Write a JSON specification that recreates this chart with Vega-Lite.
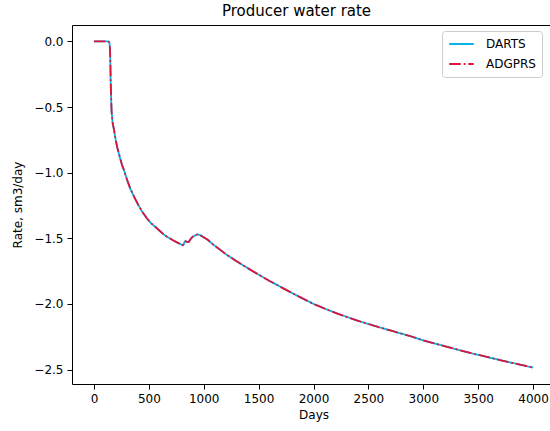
{
  "$schema": "https://vega.github.io/schema/vega-lite/v6.json",
  "width": 483,
  "height": 359,
  "autosize": {"type": "none"},
  "padding": {"left": 72, "top": 25, "right": 10, "bottom": 47},
  "background": "white",
  "config": {
    "view": {"stroke": "#000", "strokeWidth": 1},
    "font": "DejaVu Sans",
    "axis": {
      "grid": false, "domain": false,
      "labelFont": "DejaVu Sans", "labelFontSize": 12, "labelColor": "#000",
      "tickColor": "#000", "tickSize": 5, "tickWidth": 1, "labelPadding": 4,
      "titleFont": "DejaVu Sans", "titleFontSize": 12, "titleFontWeight": "normal", "titleColor": "#000"
    }
  },
  "title": {
    "text": "Producer water rate",
    "font": "DejaVu Sans", "fontSize": 15, "fontWeight": "normal", "color": "#000",
    "anchor": "middle", "dx": -17, "offset": 6
  },
  "datasets": {
    "darts": [
      {"series":"DARTS","day":0,"rate":0},{"series":"DARTS","day":50,"rate":0},{"series":"DARTS","day":100,"rate":0},{"series":"DARTS","day":131,"rate":0},
      {"series":"DARTS","day":138,"rate":-0.005},{"series":"DARTS","day":143,"rate":-0.02},{"series":"DARTS","day":147,"rate":-0.08},{"series":"DARTS","day":150,"rate":-0.18},
      {"series":"DARTS","day":152,"rate":-0.29},{"series":"DARTS","day":156,"rate":-0.42},{"series":"DARTS","day":161,"rate":-0.54},{"series":"DARTS","day":170,"rate":-0.62},
      {"series":"DARTS","day":182,"rate":-0.67},{"series":"DARTS","day":198,"rate":-0.75},{"series":"DARTS","day":213,"rate":-0.81},{"series":"DARTS","day":235,"rate":-0.88},
      {"series":"DARTS","day":255,"rate":-0.94},{"series":"DARTS","day":273,"rate":-0.98},{"series":"DARTS","day":300,"rate":-1.05},{"series":"DARTS","day":330,"rate":-1.12},
      {"series":"DARTS","day":364,"rate":-1.18},{"series":"DARTS","day":400,"rate":-1.24},{"series":"DARTS","day":441,"rate":-1.30},{"series":"DARTS","day":480,"rate":-1.345},
      {"series":"DARTS","day":520,"rate":-1.385},{"series":"DARTS","day":562,"rate":-1.415},{"series":"DARTS","day":608,"rate":-1.45},{"series":"DARTS","day":650,"rate":-1.48},
      {"series":"DARTS","day":684,"rate":-1.497},{"series":"DARTS","day":720,"rate":-1.515},{"series":"DARTS","day":760,"rate":-1.533},{"series":"DARTS","day":790,"rate":-1.545},
      {"series":"DARTS","day":808,"rate":-1.553},{"series":"DARTS","day":818,"rate":-1.545},{"series":"DARTS","day":826,"rate":-1.525},{"series":"DARTS","day":836,"rate":-1.522},
      {"series":"DARTS","day":850,"rate":-1.528},{"series":"DARTS","day":866,"rate":-1.525},{"series":"DARTS","day":881,"rate":-1.505},{"series":"DARTS","day":900,"rate":-1.488},
      {"series":"DARTS","day":920,"rate":-1.478},{"series":"DARTS","day":942,"rate":-1.471},{"series":"DARTS","day":965,"rate":-1.475},{"series":"DARTS","day":988,"rate":-1.486},
      {"series":"DARTS","day":1033,"rate":-1.509},{"series":"DARTS","day":1094,"rate":-1.553},{"series":"DARTS","day":1154,"rate":-1.59},{"series":"DARTS","day":1200,"rate":-1.62},
      {"series":"DARTS","day":1300,"rate":-1.675},{"series":"DARTS","day":1400,"rate":-1.727},{"series":"DARTS","day":1500,"rate":-1.777},{"series":"DARTS","day":1600,"rate":-1.825},
      {"series":"DARTS","day":1700,"rate":-1.87},{"series":"DARTS","day":1800,"rate":-1.915},{"series":"DARTS","day":1900,"rate":-1.958},{"series":"DARTS","day":2000,"rate":-2.0},
      {"series":"DARTS","day":2100,"rate":-2.035},{"series":"DARTS","day":2200,"rate":-2.068},{"series":"DARTS","day":2300,"rate":-2.098},{"series":"DARTS","day":2400,"rate":-2.127},
      {"series":"DARTS","day":2500,"rate":-2.153},{"series":"DARTS","day":2600,"rate":-2.178},{"series":"DARTS","day":2700,"rate":-2.202},{"series":"DARTS","day":2800,"rate":-2.226},
      {"series":"DARTS","day":2900,"rate":-2.25},{"series":"DARTS","day":3000,"rate":-2.278},{"series":"DARTS","day":3100,"rate":-2.301},{"series":"DARTS","day":3200,"rate":-2.323},
      {"series":"DARTS","day":3300,"rate":-2.345},{"series":"DARTS","day":3400,"rate":-2.367},{"series":"DARTS","day":3500,"rate":-2.388},{"series":"DARTS","day":3600,"rate":-2.408},
      {"series":"DARTS","day":3700,"rate":-2.428},{"series":"DARTS","day":3800,"rate":-2.447},{"series":"DARTS","day":3900,"rate":-2.466},{"series":"DARTS","day":4000,"rate":-2.485}
    ],
    "adgprs": [
      {"series":"ADGPRS","day":0,"rate":0},{"series":"ADGPRS","day":50,"rate":0},{"series":"ADGPRS","day":100,"rate":0},{"series":"ADGPRS","day":131,"rate":0},
      {"series":"ADGPRS","day":138,"rate":-0.005},{"series":"ADGPRS","day":143,"rate":-0.02},{"series":"ADGPRS","day":147,"rate":-0.08},{"series":"ADGPRS","day":150,"rate":-0.18},
      {"series":"ADGPRS","day":152,"rate":-0.29},{"series":"ADGPRS","day":156,"rate":-0.42},{"series":"ADGPRS","day":161,"rate":-0.54},{"series":"ADGPRS","day":170,"rate":-0.62},
      {"series":"ADGPRS","day":182,"rate":-0.67},{"series":"ADGPRS","day":198,"rate":-0.75},{"series":"ADGPRS","day":213,"rate":-0.81},{"series":"ADGPRS","day":235,"rate":-0.88},
      {"series":"ADGPRS","day":255,"rate":-0.94},{"series":"ADGPRS","day":273,"rate":-0.98},{"series":"ADGPRS","day":300,"rate":-1.05},{"series":"ADGPRS","day":330,"rate":-1.12},
      {"series":"ADGPRS","day":364,"rate":-1.18},{"series":"ADGPRS","day":400,"rate":-1.24},{"series":"ADGPRS","day":441,"rate":-1.30},{"series":"ADGPRS","day":480,"rate":-1.345},
      {"series":"ADGPRS","day":520,"rate":-1.385},{"series":"ADGPRS","day":562,"rate":-1.415},{"series":"ADGPRS","day":608,"rate":-1.45},{"series":"ADGPRS","day":650,"rate":-1.48},
      {"series":"ADGPRS","day":684,"rate":-1.497},{"series":"ADGPRS","day":720,"rate":-1.515},{"series":"ADGPRS","day":760,"rate":-1.533},{"series":"ADGPRS","day":790,"rate":-1.545},
      {"series":"ADGPRS","day":808,"rate":-1.553},{"series":"ADGPRS","day":818,"rate":-1.545},{"series":"ADGPRS","day":826,"rate":-1.525},{"series":"ADGPRS","day":836,"rate":-1.522},
      {"series":"ADGPRS","day":850,"rate":-1.528},{"series":"ADGPRS","day":866,"rate":-1.525},{"series":"ADGPRS","day":881,"rate":-1.505},{"series":"ADGPRS","day":900,"rate":-1.488},
      {"series":"ADGPRS","day":920,"rate":-1.478},{"series":"ADGPRS","day":942,"rate":-1.471},{"series":"ADGPRS","day":965,"rate":-1.475},{"series":"ADGPRS","day":988,"rate":-1.486},
      {"series":"ADGPRS","day":1033,"rate":-1.509},{"series":"ADGPRS","day":1094,"rate":-1.553},{"series":"ADGPRS","day":1154,"rate":-1.59},{"series":"ADGPRS","day":1200,"rate":-1.62},
      {"series":"ADGPRS","day":1300,"rate":-1.675},{"series":"ADGPRS","day":1400,"rate":-1.727},{"series":"ADGPRS","day":1500,"rate":-1.777},{"series":"ADGPRS","day":1600,"rate":-1.825},
      {"series":"ADGPRS","day":1700,"rate":-1.87},{"series":"ADGPRS","day":1800,"rate":-1.915},{"series":"ADGPRS","day":1900,"rate":-1.958},{"series":"ADGPRS","day":2000,"rate":-2.0},
      {"series":"ADGPRS","day":2100,"rate":-2.035},{"series":"ADGPRS","day":2200,"rate":-2.068},{"series":"ADGPRS","day":2300,"rate":-2.098},{"series":"ADGPRS","day":2400,"rate":-2.127},
      {"series":"ADGPRS","day":2500,"rate":-2.153},{"series":"ADGPRS","day":2600,"rate":-2.178},{"series":"ADGPRS","day":2700,"rate":-2.202},{"series":"ADGPRS","day":2800,"rate":-2.226},
      {"series":"ADGPRS","day":2900,"rate":-2.25},{"series":"ADGPRS","day":3000,"rate":-2.278},{"series":"ADGPRS","day":3100,"rate":-2.301},{"series":"ADGPRS","day":3200,"rate":-2.323},
      {"series":"ADGPRS","day":3300,"rate":-2.345},{"series":"ADGPRS","day":3400,"rate":-2.367},{"series":"ADGPRS","day":3500,"rate":-2.388},{"series":"ADGPRS","day":3600,"rate":-2.408},
      {"series":"ADGPRS","day":3700,"rate":-2.428},{"series":"ADGPRS","day":3800,"rate":-2.447},{"series":"ADGPRS","day":3900,"rate":-2.466},{"series":"ADGPRS","day":4000,"rate":-2.485}
    ]
  },
  "encoding": {
    "x": {
      "field": "day", "type": "quantitative",
      "scale": {"domain": [-200, 4200], "nice": false, "zero": false},
      "axis": {"title": "Days", "values": [0, 500, 1000, 1500, 2000, 2500, 3000, 3500, 4000], "format": "d", "titlePadding": 5}
    },
    "y": {
      "field": "rate", "type": "quantitative",
      "scale": {"domain": [-2.61, 0.125], "nice": false, "zero": false},
      "axis": {"title": "Rate, sm3/day", "values": [0, -0.5, -1, -1.5, -2, -2.5], "format": ".1f", "titlePadding": 9}
    },
    "color": {
      "field": "series", "type": "nominal",
      "scale": {"domain": ["DARTS", "ADGPRS"], "range": ["#0ab2e6", "#dc143c"]},
      "legend": {
        "title": null, "orient": "none", "legendX": 370, "legendY": 6,
        "symbolType": "stroke", "symbolSize": 600, "symbolStrokeWidth": 1.8, "clipHeight": 14,
        "labelFont": "DejaVu Sans", "labelFontSize": 12, "labelColor": "#000", "labelOffset": 11,
        "rowPadding": 6, "padding": 6,
        "fillColor": "rgba(255,255,255,0.8)", "strokeColor": "#cccccc", "cornerRadius": 3
      }
    },
    "strokeDash": {
      "field": "series", "type": "nominal",
      "scale": {"domain": ["DARTS", "ADGPRS"], "range": [[1, 0], [11.5, 2.9, 1.8, 2.9]]},
      "legend": {
        "title": null, "orient": "none", "legendX": 370, "legendY": 6,
        "symbolType": "stroke", "symbolSize": 600, "symbolStrokeWidth": 1.8, "clipHeight": 14,
        "labelFont": "DejaVu Sans", "labelFontSize": 12, "labelColor": "#000", "labelOffset": 11,
        "rowPadding": 6, "padding": 6,
        "fillColor": "rgba(255,255,255,0.8)", "strokeColor": "#cccccc", "cornerRadius": 3
      }
    }
  },
  "layer": [
    {"data": {"name": "darts"}, "mark": {"type": "line", "strokeWidth": 1.8, "clip": true}},
    {"data": {"name": "adgprs"}, "mark": {"type": "line", "strokeWidth": 1.8, "clip": true}}
  ]
}
